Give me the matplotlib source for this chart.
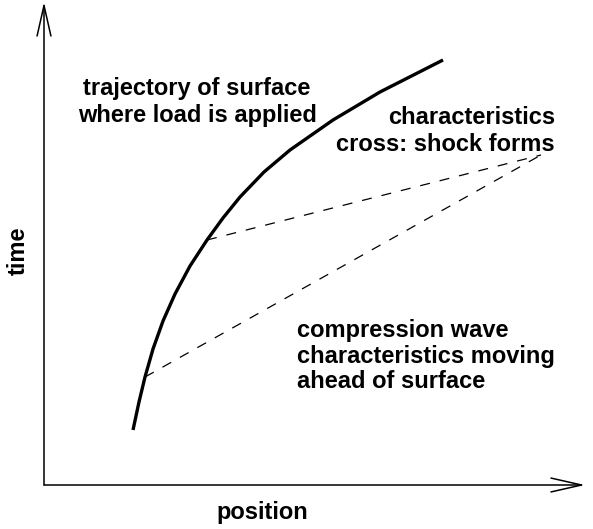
import matplotlib.pyplot as plt

plt.rcParams['font.family'] = ['Liberation Sans', 'DejaVu Sans']

# trajectory of the loaded surface (position, time)
surf_pos = [89, 95, 101, 109, 119, 131, 146, 163, 179, 196, 220, 246, 289, 336, 399]
surf_time = [55, 83, 108, 136, 164, 191, 219, 245, 267, 288, 313, 335, 365, 393, 425]

# characteristics: start on the surface, meet at the shock point
char_start_pos = [101, 163]
char_start_time = [108, 245]
shock_pos = 497
shock_time = 330

x_end = 541
y_end = 483

fig = plt.figure(figsize=(5.93, 5.29), dpi=100)
ax = fig.add_axes([0, 0, 1, 1])
ax.set_xlim(-44, 549)
ax.set_ylim(-44, 485)
ax.axis('off')

# axes with open arrowheads
arrow = dict(arrowstyle='->,head_length=2.2,head_width=0.5', lw=1.1, color='black',
             shrinkA=0, shrinkB=0)
ax.annotate('', xy=(x_end, 0), xytext=(0, 0), arrowprops=arrow)
ax.annotate('', xy=(0, y_end), xytext=(0, 0), arrowprops=arrow)

ax.plot(surf_pos, surf_time, color='black', lw=2.4, solid_capstyle='butt',
        solid_joinstyle='round')

for p, t in zip(char_start_pos, char_start_time):
    ax.plot([p, shock_pos], [t, shock_time], color='black', lw=0.9, ls=(0, (8, 8)))

fs = 17
ax.text(153, 383, 'trajectory of surface\nwhere load is applied', fontsize=fs,
        fontweight='bold', ha='center', va='center', linespacing=1.2)
ax.text(511, 354, 'characteristics\ncross: shock forms', fontsize=fs,
        fontweight='bold', ha='right', va='center', multialignment='right',
        linespacing=1.2)
ax.text(253, 129, 'compression wave\ncharacteristics moving\nahead of surface', fontsize=fs,
        fontweight='bold', ha='left', va='center', linespacing=1.15)
ax.text(218, -27, 'position', fontsize=fs, fontweight='bold', ha='center', va='center')
ax.text(-26, 234, 'time', fontsize=fs, fontweight='bold', ha='center', va='center',
        rotation=90)

fig.savefig('out.png', dpi=100)
